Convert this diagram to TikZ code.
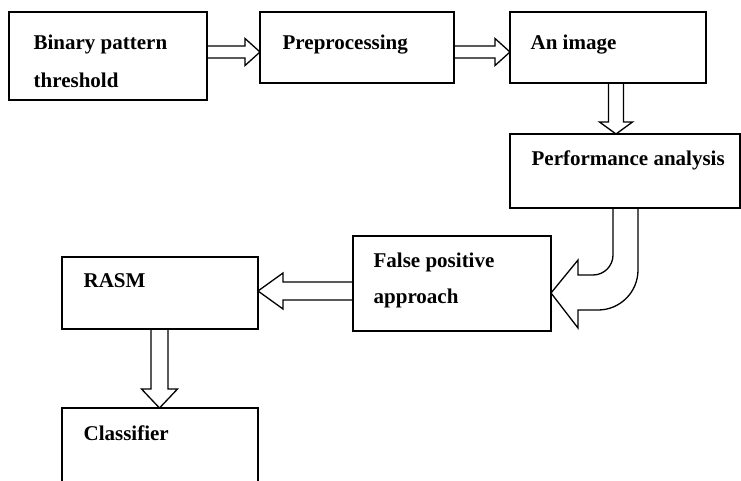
\documentclass[tikz,border=0pt]{standalone}
\usepackage{fontspec}
\setmainfont{Liberation Serif}
\usetikzlibrary{calc}
\begin{document}
\begin{tikzpicture}[x=1pt,y=-1pt,line width=1.3pt,line join=miter,
  boxst/.style={draw,rectangle,inner sep=0pt,outer sep=0pt,anchor=north west},
  lbl/.style={anchor=base west,inner sep=0pt,font=\fontsize{21}{25}\selectfont\bfseries}]
\clip (0,0) rectangle (741,481);
% boxes
\node[boxst,minimum width=198pt,minimum height=88pt] (b1) at (9,12) {};
\node[boxst,minimum width=194pt,minimum height=71pt] (b2) at (260,12) {};
\node[boxst,minimum width=196pt,minimum height=71pt] (b3) at (510,12) {};
\node[boxst,minimum width=230pt,minimum height=74pt] (b4) at (510,134) {};
\node[boxst,minimum width=198pt,minimum height=95pt] (b5) at (353,236) {};
\node[boxst,minimum width=196pt,minimum height=72pt] (b6) at (62,257) {};
\node[boxst,minimum width=196pt,minimum height=100pt] (b7) at (62,408) {};
% labels
\node[lbl] (t1a) at (33,50) {Binary pattern};
\node[lbl] (t1b) at (33,88) {threshold};
\node[lbl] (t2) at (282,50) {Preprocessing};
\node[lbl] (t3) at (530,50) {An image};
\node[lbl] (t4) at (531,166) {Performance analysis};
\node[lbl] (t5a) at (373,267) {False positive};
\node[lbl] (t5b) at (373,303) {approach};
\node[lbl] (t6) at (83,287) {RASM};
\node[lbl] (t7) at (83,440) {Classifier};
% arrow 1
\coordinate (a1s) at (b1.east |- 0,52);
\coordinate (a1t) at (b2.west |- 0,52);
\draw ($(a1s)+(0,-6)$) -- ($(a1t)+(-15,-6)$) -- ($(a1t)+(-15,-13.5)$) -- (a1t)
  -- ($(a1t)+(-15,13.5)$) -- ($(a1t)+(-15,6)$) -- ($(a1s)+(0,6)$);
% arrow 2
\coordinate (a2s) at (b2.east |- 0,52);
\coordinate (a2t) at (b3.west |- 0,52);
\draw ($(a2s)+(0,-6)$) -- ($(a2t)+(-15,-6)$) -- ($(a2t)+(-15,-13.5)$) -- (a2t)
  -- ($(a2t)+(-15,13.5)$) -- ($(a2t)+(-15,6)$) -- ($(a2s)+(0,6)$);
% arrow 3 (down)
\coordinate (a3s) at (b3.south -| 616,0);
\coordinate (a3t) at (b4.north -| 616,0);
\draw ($(a3s)+(-7.5,0)$) -- ($(a3t)+(-7.5,-12)$) -- ($(a3t)+(-16.5,-12)$) -- (a3t)
  -- ($(a3t)+(16.5,-12)$) -- ($(a3t)+(7.5,-12)$) -- ($(a3s)+(7.5,0)$);
% curved arrow
\coordinate (c1) at (b4.south -| 613,0);
\coordinate (c2) at (b4.south -| 638,0);
\coordinate (c3) at (b5.east |- 0,293);
\draw (c1) -- (613,255) arc[start angle=0,end angle=90,radius=20] -- (578,275)
  -- (578,260) -- (c3) -- (578,328) -- (578,310) -- (598,310)
  arc[start angle=90,end angle=0,radius=40] -- (c2);
% arrow 4 (left)
\coordinate (a4s) at (b5.west |- 0,291);
\coordinate (a4t) at (b6.east |- 0,291);
\draw ($(a4s)+(0,-9)$) -- ($(a4t)+(25,-9)$) -- ($(a4t)+(25,-18)$) -- (a4t)
  -- ($(a4t)+(25,18)$) -- ($(a4t)+(25,9)$) -- ($(a4s)+(0,9)$);
% arrow 5 (down)
\coordinate (a5s) at (b6.south -| 159.5,0);
\coordinate (a5t) at (b7.north -| 159.5,0);
\draw ($(a5s)+(-8.5,0)$) -- ($(a5t)+(-8.5,-19)$) -- ($(a5t)+(-18,-19)$) -- (a5t)
  -- ($(a5t)+(18,-19)$) -- ($(a5t)+(8.5,-19)$) -- ($(a5s)+(8.5,0)$);
\end{tikzpicture}
\end{document}
